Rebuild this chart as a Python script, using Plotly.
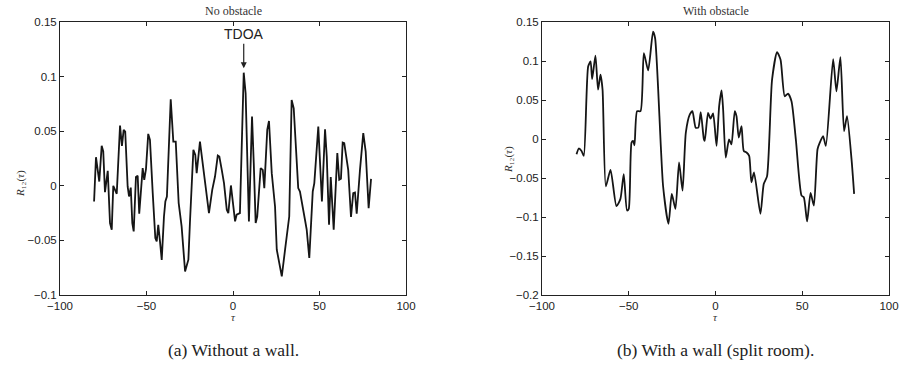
import plotly.graph_objects as go

# ---- data: left panel (No obstacle) ----
tau_a = [-80.3, -79.2, -77.3, -75.9, -75.0, -74.0, -72.4, -71.1, -70.1, -69.2, -67.2, -65.3, -64.2, -63.2,
         -62.3, -60.9, -60.1, -59.1, -58.2, -57.4, -56.1, -55.1, -54.2, -52.2, -51.3, -50.3, -49.0, -48.0,
         -46.4, -44.9, -44.1, -43.2, -42.2, -41.2, -39.9, -39.1, -38.2, -36.0, -34.5, -33.1, -31.4, -29.7,
         -27.7, -25.8, -24.9, -22.9, -21.8, -21.0, -19.1, -17.7, -16.2, -13.9, -12.0, -10.4, -8.8, -7.9,
         -6.5, -5.2, -3.6, -2.7, -1.2, -0.2, 1.2, 2.1, 3.5, 4.0, 6.2, 7.3, 9.2, 11.0, 12.0, 13.1, 14.0,
         16.0, 17.2, 18.1, 19.8, 20.8, 22.4, 24.3, 25.3, 28.2, 30.1, 32.5, 33.9, 35.1, 37.7, 38.7, 41.6,
         42.6, 44.1, 46.1, 47.0, 49.3, 51.4, 53.2, 54.2, 55.5, 56.5, 58.2, 60.3, 61.4, 62.4, 63.4, 64.3,
         66.6, 68.2, 69.5, 70.5, 71.5, 73.4, 75.3, 76.7, 78.4, 79.8]
r_a = [-0.0144, 0.0262, 0.0039, 0.0366, 0.0314, -0.0058, 0.0137, -0.0341, -0.0402, 0.0, -0.0073, 0.0551,
       0.0366, 0.0512, 0.0497, -0.0006, -0.0098, -0.0016, -0.0341, -0.0418, 0.0080, 0.0091, -0.0256, 0.0162,
       0.0055, 0.0153, 0.0475, 0.0421, -0.0067, -0.0478, -0.0509, -0.0358, -0.0509, -0.0678, -0.0281,
       -0.0144, -0.0098, 0.0793, 0.0405, 0.0405, -0.0158, -0.0372, -0.0784, -0.0677, -0.0341, 0.0329,
       0.0283, 0.0116, 0.0405, 0.0238, 0.0070, -0.0250, -0.0037, 0.0085, 0.0277, 0.0268, 0.0146, 0.0025,
       -0.0219, -0.0251, 0.0003, -0.0158, -0.0326, -0.0265, -0.0256, -0.0250, 0.1036, 0.0848, -0.0326,
       0.0634, 0.0208, -0.0341, -0.0281, 0.0162, 0.0146, -0.0021, 0.0512, 0.0594, 0.0116, -0.0189, -0.0585,
       -0.0829, -0.0585, -0.0281, 0.0786, 0.0710, -0.0021, -0.0052, -0.0311, -0.0402, -0.0661, -0.0052,
       0.0025, 0.0542, -0.0144, 0.0518, 0.0268, -0.0357, 0.0080, -0.0402, 0.0299, 0.0055, 0.0064, 0.0396,
       0.0390, 0.0146, -0.0286, -0.0067, -0.0061, -0.0256, 0.0146, 0.0482, 0.0314, -0.0204, 0.0064]

# ---- data: right panel (With obstacle) ----
tau_b = [-80.1, -78.8, -77.2, -75.9, -73.4, -72.0, -71.1, -69.2, -67.7, -66.3, -65.1, -63.2, -60.5, -57.1,
         -54.8, -52.9, -51.0, -50.0, -48.4, -47.5, -46.7, -45.2, -43.2, -41.3, -38.8, -36.0, -34.8, -30.2,
         -27.1, -25.2, -23.1, -21.0, -19.0, -17.1, -14.8, -13.3, -11.4, -9.9, -8.5, -6.7, -6.2, -4.3, -2.9,
         -1.4, 0.6, 2.1, 3.5, 4.4, 5.9, 7.8, 9.2, 11.1, 12.1, 13.4, 15.0, 16.3, 17.9, 19.4, 20.7, 22.2,
         25.9, 27.8, 29.7, 32.6, 35.5, 37.5, 39.9, 41.8, 43.8, 46.3, 49.6, 50.9, 52.8, 54.8, 56.7, 58.8,
         60.1, 62.0, 63.6, 67.8, 69.7, 72.0, 74.1, 75.8, 78.4, 79.9]
r_b = [-0.0195, -0.0122, -0.0153, -0.0217, 0.0930, 0.0994, 0.0769, 0.1070, 0.0633, 0.0824, 0.0633, -0.0606,
       -0.0395, -0.0861, -0.0768, -0.0450, -0.0917, -0.0896, -0.0046, -0.0025, -0.0080, 0.0357, 0.0357,
       0.1101, 0.0879, 0.1376, 0.1292, -0.0606, -0.1087, -0.0704, -0.0896, -0.0301, -0.0662, 0.0082, 0.0315,
       0.0357, 0.0145, 0.0145, 0.0344, -0.0004, -0.0025, 0.0336, 0.0260, 0.0327, -0.0089, 0.0420, 0.0624,
       0.0378, -0.0237, -0.0004, -0.0068, 0.0357, 0.0293, 0.0018, 0.0166, -0.0153, -0.0173, -0.0217, -0.0555,
       -0.0428, -0.0959, -0.0577, -0.0479, 0.0760, 0.1113, 0.1015, 0.0548, 0.0582, 0.0484, -0.0004, -0.0726,
       -0.0746, -0.1057, -0.0692, -0.0854, -0.0131, -0.0046, 0.0038, -0.0089, 0.1024, 0.0611, 0.1050, 0.0102,
       0.0293, -0.0259, -0.0704]

x_ticks = [-100, -50, 0, 50, 100]
x_ticktext = ["\u2212100", "\u221250", "0", "50", "100"]
ya_ticks = [-0.1, -0.05, 0, 0.05, 0.1, 0.15]
ya_ticktext = ["\u22120.1", "\u22120.05", "0", "0.05", "0.1", "0.15"]
yb_ticks = [-0.2, -0.15, -0.1, -0.05, 0, 0.05, 0.1, 0.15]
yb_ticktext = ["\u22120.2", "\u22120.15", "\u22120.1", "\u22120.05", "0", "0.05", "0.1", "0.15"]

titles = ["No obstacle", "With obstacle"]
captions = ["(a) Without a wall.", "(b) With a wall (split room)."]

W, H = 901, 374
LINE = "#151515"

fig = go.Figure()
fig.add_trace(go.Scatter(x=tau_a, y=r_a, mode="lines", line=dict(color=LINE, width=1.8),
                         xaxis="x", yaxis="y", showlegend=False, hoverinfo="skip"))
fig.add_trace(go.Scatter(x=tau_b, y=r_b, mode="lines", line=dict(color=LINE, width=1.8, shape="spline",
                         smoothing=0.6), xaxis="x2", yaxis="y2", showlegend=False, hoverinfo="skip"))

ydom = [1 - 295 / H, 1 - 22 / H]
xdomA = [60 / W, 406 / W]
xdomB = [542 / W, 889 / W]

tickfont = dict(family="Liberation Sans, Arial, sans-serif", size=11.5, color="#222")
common_ax = dict(showgrid=False, zeroline=False, showline=True, linecolor="#222", linewidth=1,
                 mirror="allticks", ticks="inside", ticklen=4, tickcolor="#222", tickwidth=1,
                 tickfont=tickfont, automargin=False, fixedrange=True)

fig.update_layout(
    template="none",
    width=W, height=H, margin=dict(l=0, r=0, t=0, b=0, pad=0, autoexpand=False),
    paper_bgcolor="white", plot_bgcolor="white", hovermode=False,
    xaxis=dict(domain=xdomA, range=[-100, 100], tickvals=x_ticks, ticktext=x_ticktext, anchor="y", **common_ax),
    yaxis=dict(domain=ydom, range=[-0.1, 0.15], tickvals=ya_ticks, ticktext=ya_ticktext, anchor="x", **common_ax),
    xaxis2=dict(domain=xdomB, range=[-100, 100], tickvals=x_ticks, ticktext=x_ticktext, anchor="y2", **common_ax),
    yaxis2=dict(domain=ydom, range=[-0.2, 0.15], tickvals=yb_ticks, ticktext=yb_ticktext, anchor="x2", **common_ax),
)

serif = "Liberation Serif, DejaVu Serif, serif"
ylabel_pos = [(20, 184), (509, 160)]
ann = []
for i, (dom, ttl, cap) in enumerate(zip([xdomA, xdomB], titles, captions)):
    cx = (dom[0] + dom[1]) / 2
    ann.append(dict(x=cx, y=1 - 11 / H, xref="paper", yref="paper", text=ttl, showarrow=False,
                    font=dict(family=serif, size=12, color="#333"), xanchor="center", yanchor="middle"))
    ann.append(dict(x=cx, y=1 - 317 / H, xref="paper", yref="paper", text="<i>\u03c4</i>", showarrow=False,
                    font=dict(family=serif, size=11, color="#333"), xanchor="center", yanchor="middle"))
    ann.append(dict(x=cx, y=1 - 350 / H, xref="paper", yref="paper", text=cap, showarrow=False,
                    font=dict(family=serif, size=17.5, color="#222"), xanchor="center", yanchor="middle"))
    px, py = ylabel_pos[i]
    ann.append(dict(x=px / W, y=1 - py / H, xref="paper", yref="paper",
                    text="<i>R</i>\u2081\u2082(<i>\u03c4</i>)", showarrow=False, textangle=-90,
                    font=dict(family=serif, size=11, color="#333"), xanchor="center", yanchor="middle"))

# TDOA arrow annotation at the main peak
peak_i = r_a.index(max(r_a))
ann.append(dict(x=tau_a[peak_i], y=r_a[peak_i] + 0.004, xref="x", yref="y", text="TDOA",
                showarrow=True, arrowhead=2, arrowsize=1, arrowwidth=1.2, arrowcolor="#222",
                ax=0, ay=-34, standoff=0,
                font=dict(family="Liberation Sans, Arial, sans-serif", size=14, color="#222")))

fig.update_layout(annotations=ann)
fig.write_html("out.html", config={"displayModeBar": False, "staticPlot": True},
               post_script="document.body.style.margin='0';document.body.style.padding='0';")
